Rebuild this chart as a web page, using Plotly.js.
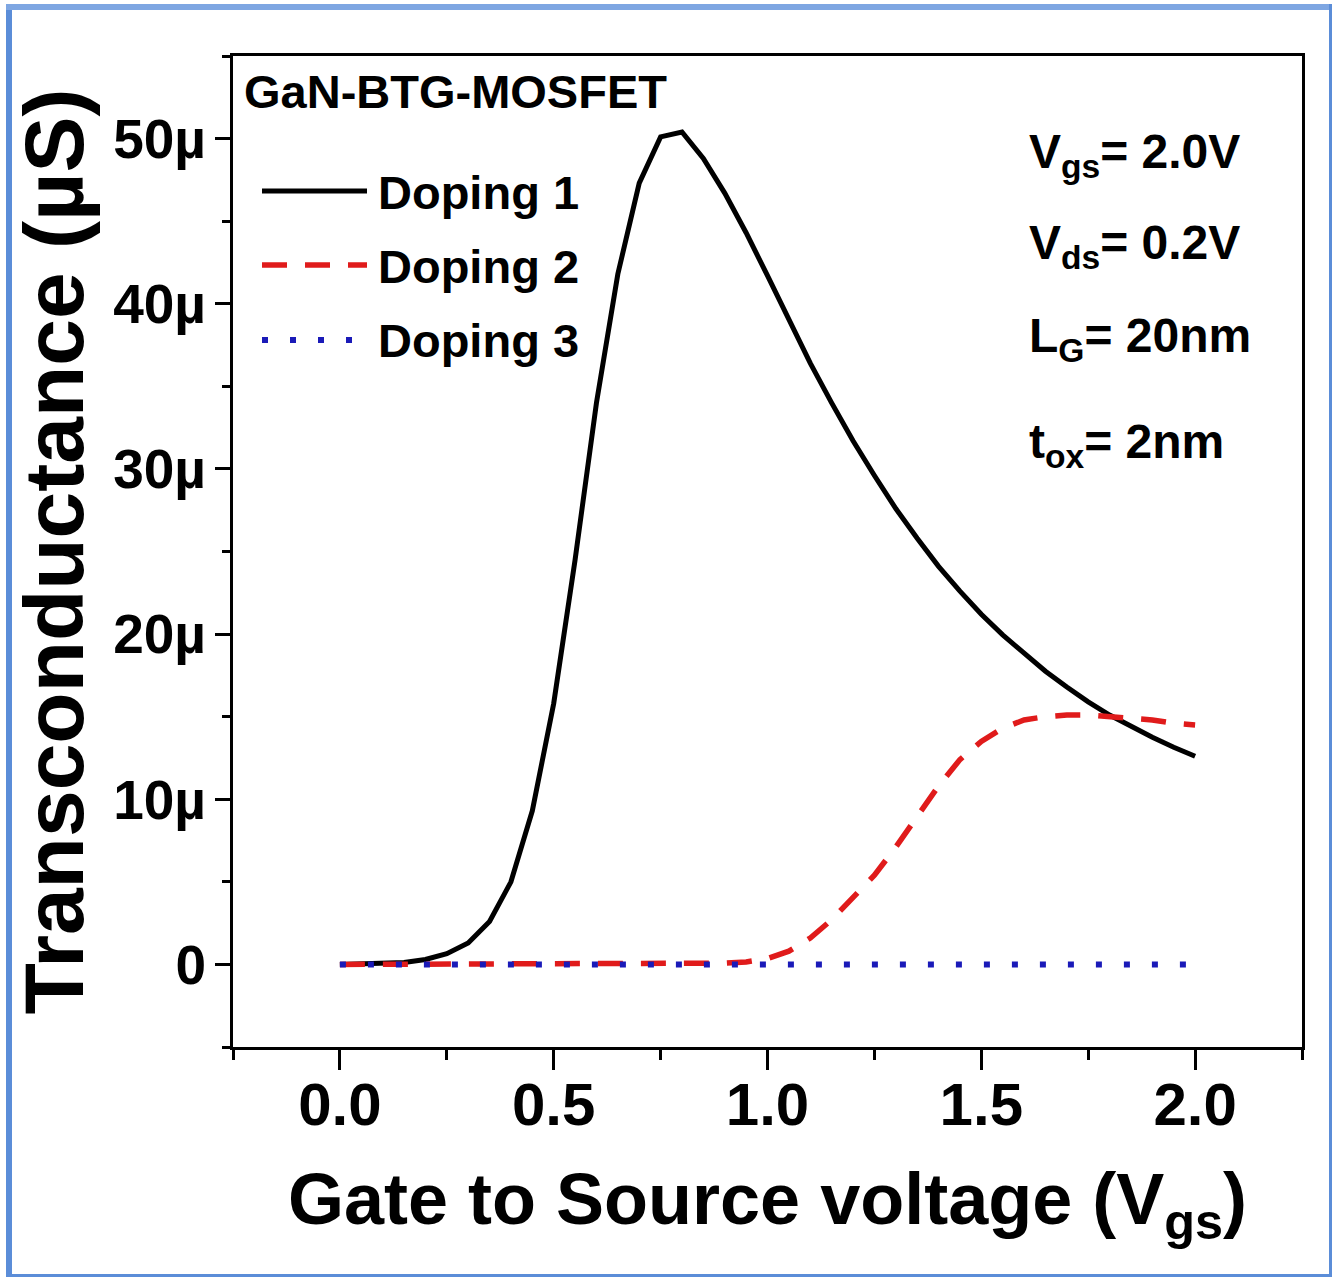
<!DOCTYPE html>
<html><head><meta charset="utf-8">
<script src="https://cdn.plot.ly/plotly-3.0.1.min.js"></script>
<style>html,body{margin:0;padding:0;background:#fff;overflow:hidden;} #chart{width:1332px;height:1277px;}</style>
</head><body><div id="chart"></div>
<script>
// ---- data ----
const vgs = [0, 0.05, 0.1, 0.15, 0.2, 0.25, 0.3, 0.35, 0.4, 0.45, 0.5, 0.55, 0.6, 0.65, 0.7, 0.75, 0.8, 0.85, 0.9, 0.95,
             1.0, 1.05, 1.1, 1.15, 1.2, 1.25, 1.3, 1.35, 1.4, 1.45, 1.5, 1.55, 1.6, 1.65, 1.7, 1.75, 1.8, 1.85, 1.9, 1.95, 2.0];
const doping1 = [0, 0.02, 0.05, 0.12, 0.3, 0.65, 1.3, 2.6, 5.0, 9.3, 15.8, 24.5, 34.0, 41.8, 47.3, 50.1, 50.4, 48.8, 46.7, 44.3,
                 41.7, 39.0, 36.4, 34.0, 31.7, 29.6, 27.6, 25.8, 24.1, 22.6, 21.2, 19.95, 18.8, 17.75, 16.8, 15.9, 15.1, 14.4, 13.75, 13.15, 12.6];
const doping2 = [0, 0, 0, 0, 0, 0, 0, 0, 0, 0, 0, 0, 0, 0, 0, 0, 0.01, 0.03, 0.08, 0.15,
                 0.35, 0.8, 1.6, 2.7, 4.0, 5.4, 7.1, 9.0, 10.8, 12.4, 13.5, 14.3, 14.8, 15.0, 15.1, 15.1, 15.0, 14.9, 14.8, 14.6, 14.5];
const doping3 = [0, 0, 0, 0, 0, 0, 0, 0, 0, 0, 0, 0, 0, 0, 0, 0, 0, 0, 0, 0,
                 0, 0, 0, 0, 0, 0, 0, 0, 0, 0, 0, 0, 0, 0, 0, 0, 0, 0, 0, 0, 0];
const seriesNames = ['Doping 1', 'Doping 2', 'Doping 3'];
const xTickVals = [0, 0.5, 1.0, 1.5, 2.0];
const xTickText = ['0.0', '0.5', '1.0', '1.5', '2.0'];
const yTickVals = [0, 10, 20, 30, 40, 50];
const yTickText = ['0', '10µ', '20µ', '30µ', '40µ', '50µ'];
const deviceLabel = 'GaN-BTG-MOSFET';
const paramLabels = ['V<sub>gs</sub>= 2.0V', 'V<sub>ds</sub>= 0.2V', 'L<sub>G</sub>= 20nm', 't<sub>ox</sub>= 2nm'];

// ---- styling ----
const FONT = "'Liberation Sans', Arial, sans-serif";
const colors = ['#000000', '#e01b1b', '#1a1ab8'];
const widths = [5, 5.5, 6];
const dashes = ['solid', '25px,18px', '6px,22px'];

const W = 1332, H = 1277;
const M = {l: 233, r: 30, t: 56, b: 230};
const PW = W - M.l - M.r, PH = H - M.t - M.b;
const px = p => (p - M.l) / PW;          // pixel x -> paper x
const py = p => (H - M.b - p) / PH;       // pixel y -> paper y

const series = [doping1, doping2, doping3];
const traces = series.map((ys, i) => ({
  type: 'scatter', mode: 'lines', x: vgs, y: ys, name: seriesNames[i],
  line: {color: colors[i], width: widths[i], dash: dashes[i]},
  showlegend: false, hoverinfo: 'x+y+name'
}));

const shapes = [];
const annotations = [];

// custom legend (long line samples as in the reference)
const legendRows = [191, 265, 340];
legendRows.forEach((yy, i) => {
  shapes.push({type: 'line', xref: 'paper', yref: 'paper', x0: px(262), x1: px(367), y0: py(yy), y1: py(yy),
               line: {color: colors[i], width: widths[i], dash: dashes[i]}});
  annotations.push({xref: 'paper', yref: 'paper', x: px(376), y: py(yy + 1), xanchor: 'left', yanchor: 'middle',
                    text: seriesNames[i], showarrow: false,
                    font: {family: FONT, size: 47, color: '#000', weight: 'bold'}});
});

annotations.push({xref: 'paper', yref: 'paper', x: px(242), y: py(92), xanchor: 'left', yanchor: 'middle',
                  text: deviceLabel, showarrow: false,
                  font: {family: FONT, size: 47, color: '#000', weight: 'bold'}});

const paramY = [155, 246, 339, 445];
paramLabels.forEach((t, i) => {
  annotations.push({xref: 'paper', yref: 'paper', x: px(1027), y: py(paramY[i]), xanchor: 'left', yanchor: 'middle',
                    text: t, showarrow: false,
                    font: {family: FONT, size: 48, color: '#000', weight: 'bold'}});
});

// outer blue picture frame
const frame = '#5b8dd8';
shapes.push({type: 'rect', xref: 'paper', yref: 'paper', x0: px(6), x1: px(12), y0: py(1277), y1: py(4), fillcolor: frame, line: {width: 0}, layer: 'below'});
shapes.push({type: 'rect', xref: 'paper', yref: 'paper', x0: px(6), x1: px(1332), y0: py(10), y1: py(4), fillcolor: '#7ea6e2', line: {width: 0}, layer: 'below'});
shapes.push({type: 'rect', xref: 'paper', yref: 'paper', x0: px(1329), x1: px(1332), y0: py(1277), y1: py(4), fillcolor: frame, line: {width: 0}, layer: 'below'});
shapes.push({type: 'rect', xref: 'paper', yref: 'paper', x0: px(6), x1: px(1332), y0: py(1277), y1: py(1274), fillcolor: frame, line: {width: 0}, layer: 'below'});

const layout = {
  width: W, height: H,
  margin: M,
  paper_bgcolor: '#ffffff', plot_bgcolor: '#ffffff',
  showlegend: false,
  font: {family: FONT, color: '#000', weight: 'bold'},
  xaxis: {
    range: [-0.25, 2.25], tickmode: 'array', tickvals: xTickVals, ticktext: xTickText,
    showgrid: false, zeroline: false, showline: true, linecolor: '#000', linewidth: 3, mirror: true,
    ticks: 'outside', ticklen: 20, tickwidth: 3, tickcolor: '#000',
    tickfont: {family: FONT, size: 60, color: '#000', weight: 'bold'}, ticklabelstandoff: -17,
    minor: {tickmode: 'linear', tick0: 0, dtick: 0.25, ticks: 'outside', ticklen: 10, tickwidth: 3, tickcolor: '#000', showgrid: false},
    title: {text: 'Gate to Source voltage (V<sub>gs</sub>)', standoff: 37,
            font: {family: FONT, size: 72, color: '#000', weight: 'bold'}},
    automargin: false
  },
  yaxis: {
    range: [-5, 55], tickmode: 'array', tickvals: yTickVals, ticktext: yTickText,
    showgrid: false, zeroline: false, showline: true, linecolor: '#000', linewidth: 3, mirror: true,
    ticks: 'outside', ticklen: 15, tickwidth: 3, tickcolor: '#000',
    tickfont: {family: FONT, size: 55, color: '#000', weight: 'bold'}, ticklabelstandoff: -2,
    minor: {tickmode: 'linear', tick0: 0, dtick: 5, ticks: 'outside', ticklen: 8, tickwidth: 3, tickcolor: '#000', showgrid: false},
    title: {text: 'Transconductance (µS)', standoff: 2,
            font: {family: FONT, size: 84, color: '#000', weight: 'bold'}},
    automargin: false
  },
  shapes: shapes,
  annotations: annotations
};

Plotly.newPlot('chart', traces, layout, {displayModeBar: false, staticPlot: true});
</script>
</body></html>
